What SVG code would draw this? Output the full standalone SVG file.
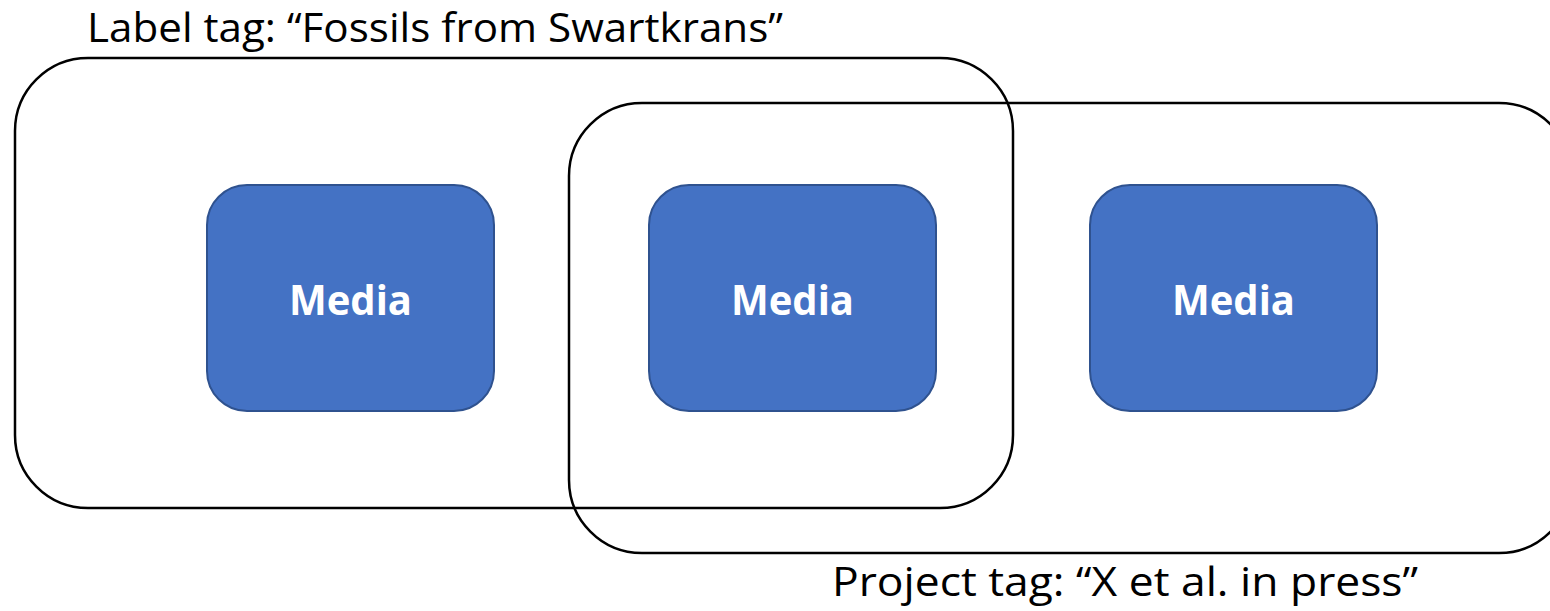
<svg xmlns="http://www.w3.org/2000/svg" width="1550" height="611" viewBox="0 0 1550 611">
<style>
.tag{fill:none;stroke:#000;stroke-width:2.5}
.media{fill:#4472C4;stroke:#2F528F;stroke-width:2}
.mtxt{font-family:"Open Sans","Liberation Sans",sans-serif;font-weight:bold;font-size:42px;fill:#fff;text-anchor:middle}
.lbl{font-family:"Open Sans","Liberation Sans",sans-serif;font-size:41px;fill:#000}
</style>
<rect width="1550" height="611" fill="#fff"/>
<g id="label-tag">
<rect class="tag" x="15" y="58" width="998" height="450" rx="73" ry="73"/>
<text class="lbl" x="87" y="42" textLength="696" lengthAdjust="spacingAndGlyphs">Label tag: “Fossils from Swartkrans”</text>
</g>
<g id="project-tag">
<rect class="tag" x="569" y="103" width="1003" height="450" rx="73" ry="73"/>
<text class="lbl" x="832" y="596" textLength="586" lengthAdjust="spacingAndGlyphs">Project tag: “X et al. in press”</text>
</g>
<g id="media1">
<rect class="media" x="207" y="185" width="287" height="226" rx="40" ry="40"/>
<text class="mtxt" x="350.5" y="315" textLength="123" lengthAdjust="spacingAndGlyphs">Media</text>
</g>
<g id="media2">
<rect class="media" x="649" y="185" width="287" height="226" rx="40" ry="40"/>
<text class="mtxt" x="792.5" y="315" textLength="123" lengthAdjust="spacingAndGlyphs">Media</text>
</g>
<g id="media3">
<rect class="media" x="1090" y="185" width="287" height="226" rx="40" ry="40"/>
<text class="mtxt" x="1233.5" y="315" textLength="123" lengthAdjust="spacingAndGlyphs">Media</text>
</g>
<g id="connectors"/>
</svg>
